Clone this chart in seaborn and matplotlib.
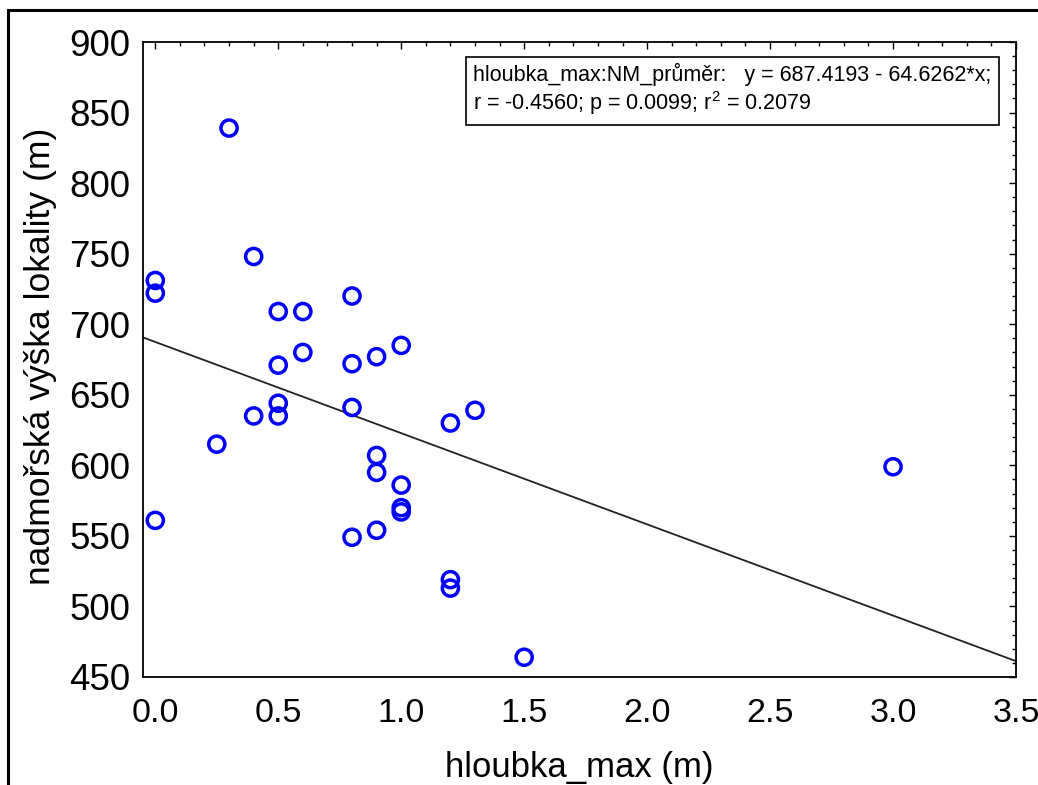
import seaborn as sns
import matplotlib.pyplot as plt
import matplotlib.patches as mpatches
from matplotlib.ticker import MultipleLocator
import numpy as np
import pandas as pd

# maximum depth (m) and altitude of the site (m)
hloubka_max = [0.3, 0.0, 0.0, 0.0, 0.4, 0.5, 0.6, 0.8, 0.6, 0.5,
               0.8, 0.9, 1.0, 0.5, 0.5, 0.4, 0.25, 0.8, 1.2, 1.3,
               0.9, 0.9, 1.0, 1.0, 1.0, 0.8, 0.9, 1.2, 1.2, 1.5, 3.0]
nm_prumer = [839, 731, 722, 561, 748, 709, 709, 720, 680, 671,
             672, 677, 685, 644, 635, 635, 615, 641, 630, 639,
             607, 595, 586, 570, 567, 549, 554, 519, 513, 464, 599]

# regression reported in the box
intercept = 687.4193
slope = -64.6262
r_val = -0.4560
p_val = 0.0099
r2_val = 0.2079

df = pd.DataFrame({'hloubka_max': hloubka_max, 'nm': nm_prumer})

sns.set_theme(style='white')
plt.rcParams['font.family'] = ['Liberation Sans', 'DejaVu Sans']
plt.rcParams['mathtext.default'] = 'regular'

fig = plt.figure(figsize=(10.38, 7.85), dpi=100)
ax = fig.add_axes([143 / 1038, 1 - 677 / 785, 873 / 1038, 635 / 785])

xlim = (-0.05, 3.5)
line_x = np.array(xlim)
line = pd.DataFrame({'x': line_x, 'y': intercept + slope * line_x})
sns.lineplot(data=line, x='x', y='y', color='#222222', lw=1.3, ax=ax)

sns.scatterplot(data=df, x='hloubka_max', y='nm', marker='o', s=135,
                facecolors='none', edgecolor='#0000ff', linewidth=2.5, ax=ax, zorder=3)

ax.set_xlim(*xlim)
ax.set_ylim(450, 900)
ax.set_xticks(np.arange(0, 3.51, 0.5))
ax.set_xticklabels([f'{v:.1f}' for v in np.arange(0, 3.51, 0.5)])
ax.set_yticks(np.arange(450, 901, 50))
ax.xaxis.set_minor_locator(MultipleLocator(0.1))
ax.yaxis.set_minor_locator(MultipleLocator(10))
ax.tick_params(which='both', direction='in', top=True, right=True, colors='black', width=1.0)
ax.tick_params(which='major', length=5)
ax.tick_params(which='minor', length=3)
ax.tick_params(axis='x', which='major', labelsize=24.5, pad=15)
ax.tick_params(axis='y', which='major', labelsize=26.5, pad=9)
for sp in ax.spines.values():
    sp.set_color('black')
    sp.set_linewidth(1.3)

ax.set_xlabel('hloubka_max (m)', fontsize=25, color='black', labelpad=16)
ax.set_ylabel('nadmořská výška lokality (m)', fontsize=25.5, color='black')
ax.yaxis.set_label_coords(-0.0985, 0.505)

ax.text(0.972, 0.967,
        f'hloubka_max:NM_průměr:   y = {intercept:.4f} - {abs(slope):.4f}*x;\n'
        f'r = {r_val:.4f}; p = {p_val:.4f}; r$^2$ = {r2_val:.4f}',
        transform=ax.transAxes, ha='right', va='top', multialignment='left',
        fontsize=15.5, color='black', linespacing=1.15,
        bbox=dict(boxstyle='square,pad=0.35', facecolor='white', edgecolor='black', linewidth=1.2))

# outer frame of the exported figure
fig.patches.append(mpatches.Rectangle((8 / 1038, -0.1), 1.2, 1.1 - 10 / 785,
                                      transform=fig.transFigure, fill=False,
                                      edgecolor='black', linewidth=2.2))

fig.savefig('out.png', dpi=100)
